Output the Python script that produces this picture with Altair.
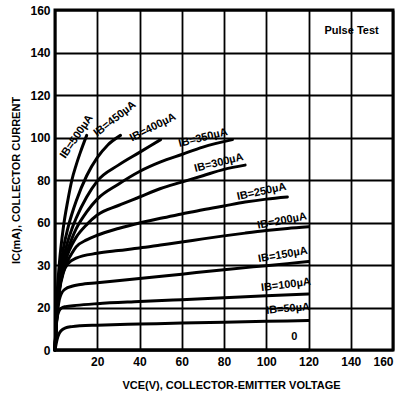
import altair as alt
import pandas as pd

# ---- data (V_CE in volts, I_C in mA) ----
ib_names = ["0", "50", "100", "150", "200", "250", "300", "350", "400", "450", "500"]

ib_0_v = [0, 120]
ib_0_i = [0, 0]

ib_50_v = [0, 1, 2, 3, 5, 8, 12, 20, 40, 60, 80, 100, 120]
ib_50_i = [0, 5, 7.8, 9.2, 10.4, 11, 11.4, 11.7, 12.2, 12.7, 13.1, 13.5, 13.9]

ib_100_v = [0, 0.5, 1, 2, 3, 5, 10, 20, 40, 60, 80, 100, 120]
ib_100_i = [0, 10, 15, 18.5, 19.7, 20.4, 21, 21.8, 22.8, 23.7, 24.6, 25.5, 26.3]

ib_150_v = [0, 0.5, 1, 2, 3, 5, 8, 12, 20, 40, 60, 80, 100, 120]
ib_150_i = [0, 11, 17, 23.5, 26.5, 28.8, 30, 30.8, 31.6, 33.6, 35.7, 37.8, 39.7, 41.6]

ib_200_v = [0, 0.5, 1, 2, 4, 6, 10, 20, 30, 40, 50, 60, 70, 80, 90, 100, 110, 120]
ib_200_i = [0, 10, 17, 27, 36.5, 40.5, 43.2, 45.5, 46.8, 48, 49.4, 50.8, 52.3, 53.7, 55, 56.2, 57.2, 58]

ib_250_v = [0, 0.5, 1, 2, 4, 6, 8, 10, 15, 20, 30, 40, 50, 60, 70, 80, 90, 100, 110]
ib_250_i = [0, 10, 18, 28, 37, 42, 45.5, 48.5, 51.8, 54, 57.2, 59.8, 62, 64, 66, 67.8, 69.6, 71, 72]

ib_300_v = [0, 0.5, 1, 2, 4, 6, 8, 10, 15, 20, 30, 40, 50, 60, 70, 80, 90]
ib_300_i = [0, 10, 18.5, 28.5, 38.5, 45, 49.5, 53, 59, 63.5, 68, 72, 76, 79, 82, 85, 87]

ib_350_v = [0, 0.5, 1, 2, 4, 6, 8, 10, 15, 20, 30, 40, 50, 60, 70, 84]
ib_350_i = [0, 10.5, 19.5, 29.5, 40, 47, 52.5, 57, 65, 71, 78, 84, 88.5, 92, 95.5, 99]

ib_400_v = [0, 0.5, 1, 2, 4, 6, 8, 10, 15, 20, 30, 40, 50]
ib_400_i = [0, 11, 20.5, 31, 43, 51, 57, 62, 72, 79.5, 87, 93, 99]

ib_450_v = [0, 0.5, 1, 2, 4, 6, 8, 10, 15, 20, 25, 31]
ib_450_i = [0, 12, 22, 34, 48, 57, 64, 70, 82, 90.5, 96.5, 101]

ib_500_v = [0, 0.5, 1, 2, 4, 6, 8, 10, 12, 15]
ib_500_i = [0, 14, 26, 40, 58, 70, 80, 87, 93, 101]

# annotation texts and anchor points (data units)
label_texts = ["IB=500µA", "IB=450µA", "IB=400µA", "IB=350µA", "IB=300µA", "IB=250µA",
               "IB=200µA", "IB=150µA", "IB=100µA", "IB=50µA", "0", "Pulse Test"]
label_v = [10.3, 28.4, 46.4, 70.1, 77.6, 97.8, 107.5, 107.9, 109.3, 110.3, 113.3, 140.4]
label_i = [100.4, 108.7, 104.7, 99.8, 88.0, 74.4, 60.7, 44.7, 30.6, 19.3, 6.3, 149.9]
label_angle = [304, 322, 333, 346, 346, 348, 349, 350, 353, 355, 0, 0]

x_ticks = [0, 20, 40, 60, 80, 100, 120, 140, 160]
y_ticks = [0, 20, 40, 60, 80, 100, 120, 140, 160]

# ---- build tables ----
series = {
    "0": (ib_0_v, ib_0_i), "50": (ib_50_v, ib_50_i), "100": (ib_100_v, ib_100_i),
    "150": (ib_150_v, ib_150_i), "200": (ib_200_v, ib_200_i), "250": (ib_250_v, ib_250_i),
    "300": (ib_300_v, ib_300_i), "350": (ib_350_v, ib_350_i), "400": (ib_400_v, ib_400_i),
    "450": (ib_450_v, ib_450_i), "500": (ib_500_v, ib_500_i),
}
rows = []
for name in ib_names:
    vs, cs = series[name]
    for k, (v, c) in enumerate(zip(vs, cs)):
        rows.append({"ib": name, "v": v, "i": c, "o": k})
curves = pd.DataFrame(rows)

FONT = "Liberation Sans"

xscale = alt.Scale(domain=[0, 160], nice=False, zero=True)
yscale = alt.Scale(domain=[0, 160], nice=False, zero=True)

xaxis = alt.Axis(
    values=x_ticks, grid=True, gridColor="black", gridWidth=1.8, gridOpacity=1,
    domain=False, ticks=False, labelPadding=6,
    labelExpr="datum.value == 0 ? '' : datum.label",
    labelFont=FONT, labelFontSize=12, labelFontWeight="bold", labelColor="black",
    title="VCE(V), COLLECTOR-EMITTER VOLTAGE", titleFont=FONT, titleFontSize=11,
    titleFontWeight="bold", titleColor="black", titleX=176, titleY=38,
    titleBaseline="alphabetic", titleAlign="center",
)
yaxis = alt.Axis(
    values=y_ticks, grid=True, gridColor="black", gridWidth=1.8, gridOpacity=1,
    domain=False, ticks=False, labelPadding=5,
    labelExpr="datum.value == 40 ? '30' : datum.label",
    labelFont=FONT, labelFontSize=12, labelFontWeight="bold", labelColor="black",
    title="IC(mA), COLLECTOR CURRENT", titleFont=FONT, titleFontSize=11,
    titleFontWeight="bold", titleColor="black", titleAngle=270, titleX=-39, titleY=170,
    titleBaseline="middle", titleAlign="center",
)

lines = alt.Chart(curves).mark_line(
    color="black", strokeWidth=3, interpolate="monotone", strokeCap="round"
).encode(
    x=alt.X("v:Q", scale=xscale, axis=xaxis),
    y=alt.Y("i:Q", scale=yscale, axis=yaxis),
    detail="ib:N",
    order="o:Q",
)

layers = [lines]
for t, v, c, a in zip(label_texts, label_v, label_i, label_angle):
    df = pd.DataFrame({"t": [t], "v": [v], "i": [c]})
    layers.append(
        alt.Chart(df).mark_text(
            font=FONT, fontSize=11, fontWeight="bold", color="black",
            align="center", baseline="middle", angle=a,
        ).encode(
            x=alt.X("v:Q", scale=xscale),
            y=alt.Y("i:Q", scale=yscale),
            text="t:N",
        )
    )

chart = alt.layer(*layers).properties(
    width=338, height=340,
    autosize=alt.AutoSizeParams(type="none"),
    padding={"left": 55, "top": 10, "right": 7, "bottom": 48},
    background="white",
).configure_view(stroke="black", strokeWidth=3)

chart.save("out.html", embed_options={"renderer": "svg", "actions": False})
